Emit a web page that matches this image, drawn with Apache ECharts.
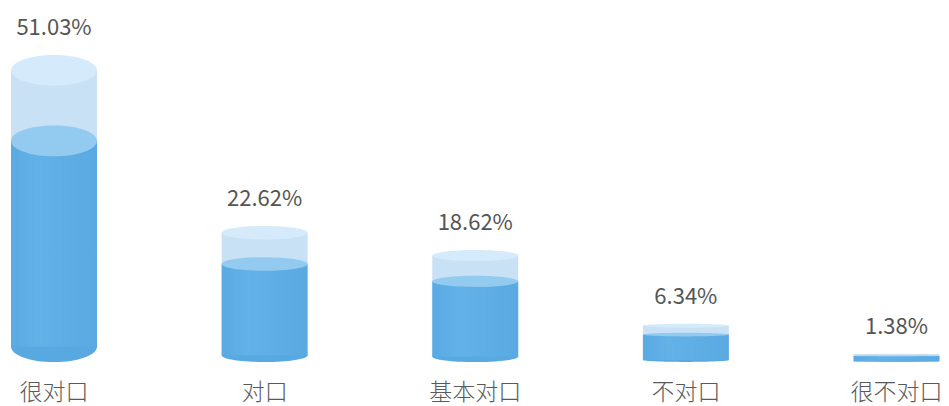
<!DOCTYPE html>
<html>
<head>
<meta charset="utf-8">
<script src="https://cdn.jsdelivr.net/npm/echarts@6/dist/echarts.min.js"></script>
<style>
html,body{margin:0;padding:0;background:#fff;}
#main{width:949px;height:406px;}
</style>
</head>
<body>
<div id="main"></div>
<script>
const categories = ['很对口', '对口', '基本对口', '不对口', '很不对口'];
const values = [51.03, 22.62, 18.62, 6.34, 1.38];

const BAR_RATIO = 0.408;
const FILL_TOP = 0.23;
const RY_RATIO = 0.05;

const chart = echarts.init(document.getElementById('main'), null, {renderer: 'svg'});

function renderItem(params, api) {
  const i = api.value(0);
  const v = api.value(1);
  const base = api.coord([i, 0]);
  const top = api.coord([i, v]);
  const bw = api.size([1, 0])[0] * BAR_RATIO;
  const rx = bw / 2;
  const cx = base[0];
  const H = base[1] - top[1];
  const ry = H * RY_RATIO;
  const yTopC = top[1] + ry;
  const yBotC = base[1] - ry;
  const yFillC = top[1] + H * FILL_TOP + ry;
  const darkFill = new echarts.graphic.LinearGradient(0, 0, 1, 0, [
    {offset: 0, color: '#5aaae3'},
    {offset: 0.3, color: '#62b1e7'},
    {offset: 1, color: '#5aa9e2'}
  ]);
  return {
    type: 'group',
    children: [
      {type: 'rect', shape: {x: cx - rx, y: yTopC, width: bw, height: Math.max(0, yBotC - yTopC)}, style: {fill: '#c9e1f4'}},
      {type: 'ellipse', shape: {cx: cx, cy: yBotC, rx: rx, ry: ry}, style: {fill: '#58a8e1'}},
      {type: 'rect', shape: {x: cx - rx, y: yFillC, width: bw, height: Math.max(0, yBotC - yFillC)}, style: {fill: darkFill}},
      {type: 'ellipse', shape: {cx: cx, cy: yFillC, rx: rx, ry: ry}, style: {fill: '#93caf0'}},
      {type: 'ellipse', shape: {cx: cx, cy: yTopC, rx: rx, ry: ry}, style: {fill: '#d5ebfb'}},
      {type: 'text', style: {
        text: v.toFixed(2) + '%', x: cx, y: top[1] - 30,
        align: 'center', verticalAlign: 'middle',
        fontSize: 22, fontFamily: 'Noto Sans CJK SC', fill: '#555555'
      }}
    ]
  };
}

chart.setOption({
  animation: false,
  grid: {left: 54, right: 52.5, top: 1, bottom: 44},
  xAxis: {
    type: 'category',
    data: categories,
    boundaryGap: false,
    axisLine: {show: false},
    axisTick: {show: false},
    axisLabel: {fontSize: 23, lineHeight: 26, color: '#5a5a5a', margin: 15, fontFamily: 'Noto Sans CJK SC', fontWeight: 300}
  },
  yAxis: {
    type: 'value', min: 0, max: 60,
    show: false
  },
  series: [{
    type: 'custom',
    renderItem: renderItem,
    data: values.map((v, i) => [i, v]),
    clip: false
  }]
});
</script>
</body>
</html>
